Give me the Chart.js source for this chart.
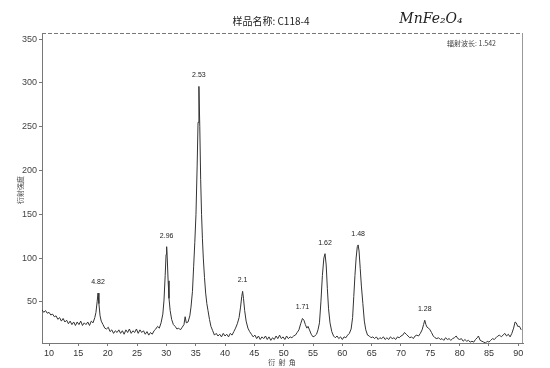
<!DOCTYPE html>
<html>
<head>
<meta charset="utf-8">
<script src="https://cdn.jsdelivr.net/npm/chart.js@4.4.1/dist/chart.umd.min.js"></script>
<style>
html,body{margin:0;padding:0;background:#fff;}
#wrap{width:550px;height:368px;position:relative;}
</style>
</head>
<body>
<div id="wrap"><canvas id="c" width="550" height="368"></canvas></div>
<script>
// ---- data ----
const twoTheta = [
8.8,9.1,9.4,9.7,10.0,10.3,10.6,10.9,11.2,11.5,11.8,12.1,12.4,12.7,13.0,13.3,13.6,13.9,14.2,14.5,
14.8,15.1,15.4,15.7,16.0,16.3,16.6,16.9,17.2,17.5,17.8,18.0,18.2,18.35,18.5,18.7,18.9,19.2,19.5,19.8,
20.1,20.4,20.7,21.0,21.3,21.6,21.9,22.2,22.5,22.8,23.1,23.4,23.7,24.0,24.3,24.6,24.9,25.2,25.5,25.8,
26.1,26.4,26.7,27.0,27.3,27.6,27.9,28.2,28.5,28.8,29.1,29.4,29.6,29.8,29.95,30.05,30.15,30.3,30.45,30.65,
30.9,31.2,31.5,31.8,32.1,32.4,32.7,33.0,33.2,33.4,33.7,34.0,34.2,34.45,34.65,34.85,35.05,35.25,35.4,35.55,
35.7,35.85,36.0,36.15,36.3,36.5,36.7,36.9,37.1,37.35,37.6,37.9,38.2,38.5,38.8,39.1,39.4,39.7,40.0,40.3,
40.6,40.9,41.2,41.5,41.8,42.1,42.4,42.65,42.85,43.0,43.15,43.35,43.6,43.9,44.2,44.5,44.8,45.1,45.4,45.7,
46.0,46.3,46.6,46.9,47.2,47.5,47.8,48.1,48.4,48.7,49.0,49.3,49.6,49.9,50.2,50.5,50.8,51.1,51.4,51.7,
52.0,52.3,52.6,52.9,53.2,53.45,53.7,53.95,54.15,54.4,54.7,55.0,55.3,55.6,55.85,56.1,56.35,56.6,56.85,57.05,
57.25,57.45,57.65,57.9,58.2,58.5,58.8,59.1,59.4,59.7,60.0,60.3,60.6,60.9,61.2,61.5,61.75,61.95,62.15,62.35,
62.55,62.7,62.85,63.05,63.25,63.5,63.75,64.0,64.3,64.6,64.9,65.2,65.5,65.8,66.1,66.4,66.7,67.0,67.3,67.6,
67.9,68.2,68.5,68.8,69.1,69.4,69.7,70.0,70.3,70.6,70.9,71.2,71.5,71.8,72.1,72.4,72.7,73.0,73.3,73.6,
73.85,74.05,74.25,74.45,74.7,74.95,75.2,75.5,75.8,76.1,76.4,76.7,77.0,77.3,77.6,77.9,78.2,78.5,78.8,79.1,
79.4,79.7,80.0,80.3,80.6,80.9,81.2,81.5,81.8,82.1,82.4,82.7,83.0,83.2,83.5,83.8,84.1,84.4,84.7,85.0,
85.3,85.6,85.9,86.2,86.5,86.8,87.1,87.4,87.7,88.0,88.3,88.6,88.9,89.2,89.45,89.65,89.9,90.2,90.5
];
const intensity = [
41,38,40,37,38,35,36,33,34,30,32,28,31,27,29,25,28,24,27,23,
27,24,28,23,26,24,27,23,28,26,32,38,50,60,48,34,28,24,20,19,
21,16,18,14,17,15,18,14,17,13,18,15,19,14,17,15,19,14,18,15,
17,13,16,12,15,13,17,19,22,20,26,36,52,80,104,113,100,74,54,40,
30,24,22,19,20,18,21,24,33,26,27,34,44,62,90,118,150,205,255,296,
250,190,150,122,100,78,60,48,40,30,22,17,12,14,11,13,10,14,11,13,
10,14,12,16,20,25,32,44,56,62,54,40,28,20,16,13,10,12,8,11,
7,10,8,11,7,10,6,9,7,11,8,12,8,10,7,11,8,10,9,11,
12,15,18,25,31,29,24,20,22,18,13,10,11,13,18,26,50,80,100,105,
92,65,42,26,16,11,9,11,8,10,7,10,9,12,14,19,32,56,80,100,
113,115,108,88,68,48,28,18,12,11,9,10,8,10,7,9,8,10,7,9,
7,10,8,9,7,10,9,11,12,15,13,11,9,10,8,11,12,11,14,18,
24,29,24,21,20,18,15,11,9,8,9,7,8,6,9,7,8,6,8,9,
11,8,7,8,5,7,5,6,4,5,4,7,9,11,6,5,4,3,5,4,
6,8,7,9,11,12,10,12,14,11,13,10,14,20,27,26,22,22,18
];
// peak annotations (d-spacing labels) at their peak positions
const peakLabels = ["4.82","2.96","2.53","2.1","1.71","1.62","1.48","1.28"];
const peakTheta  = [18.35,30.05,35.55,43.0,53.2,57.05,62.7,74.05];
const peakValue  = [60,113,296,62,31,105,115,29];
// tick labels
const xTicks = [10,15,20,25,30,35,40,45,50,55,60,65,70,75,80,85,90];
const yTicks = [50,100,150,200,250,300,350];
const sampleTitle = "样品名称: C118-4";
const compound = "MnFe₂O₄";
const wavelengthText = "辐射波长: 1.542";
const yTitle = "衍射强度";
const xTitle = "衍  射  角";

const points = twoTheta.map((t,i)=>({x:t,y:intensity[i]}));

const decor = {
  id:'decor',
  afterDraw(chart){
    const ctx = chart.ctx, a = chart.chartArea;
    const xs = chart.scales.x, ys = chart.scales.y;
    ctx.save();
    // top dashed border
    ctx.strokeStyle = '#777'; ctx.lineWidth = 1;
    ctx.setLineDash([4,2]);
    ctx.beginPath(); ctx.moveTo(a.left, a.top+0.5); ctx.lineTo(a.right, a.top+0.5); ctx.stroke();
    ctx.setLineDash([]);
    // right border
    ctx.strokeStyle = '#999';
    ctx.beginPath(); ctx.moveTo(a.right-0.5, a.top); ctx.lineTo(a.right-0.5, a.bottom); ctx.stroke();
    // peak labels
    ctx.fillStyle = '#222';
    ctx.font = '7px "Liberation Sans", Arial, sans-serif';
    ctx.textAlign = 'center'; ctx.textBaseline = 'middle';
    peakLabels.forEach((lab,i)=>{
      const px = xs.getPixelForValue(peakTheta[i]);
      const py = ys.getPixelForValue(peakValue[i]);
      ctx.fillText(lab, px, py-11);
    });
    // titles
    ctx.fillStyle = '#222';
    ctx.font = '10px "Noto Sans CJK SC", "Liberation Sans", sans-serif';
    ctx.textAlign = 'center';
    ctx.fillText(sampleTitle, 271, 21);
    ctx.font = 'italic 14px "DejaVu Serif", serif';
    ctx.fillText(compound, 431, 19);
    ctx.font = '7px "Noto Sans CJK SC", "Liberation Sans", sans-serif';
    ctx.textAlign = 'right';
    ctx.fillStyle = '#444';
    ctx.fillText(wavelengthText, 496, 43);
    // axis titles
    ctx.textAlign = 'center';
    ctx.fillText(xTitle, 282, 362);
    ctx.translate(20, 190);
    ctx.rotate(-Math.PI/2);
    ctx.fillText(yTitle, 0, 0);
    ctx.restore();
  }
};

new Chart(document.getElementById('c'), {
  type:'line',
  data:{datasets:[{data:points, borderColor:'#333', borderWidth:1, pointRadius:0, tension:0, fill:false}]},
  options:{
    responsive:false, animation:false, devicePixelRatio:1,
    layout:{padding:{left:0,right:27,top:33,bottom:0}},
    plugins:{legend:{display:false}, tooltip:{enabled:false}},
    scales:{
      x:{type:'linear', min:8.8, max:90.8,
        afterBuildTicks(s){ s.ticks = xTicks.map(v=>({value:v})); },
        afterFit(s){ s.height = 25; },
        grid:{drawOnChartArea:false, drawTicks:true, tickLength:3, color:'#777'},
        border:{display:true, color:'#777', width:1},
        ticks:{color:'#333', padding:2, autoSkip:false, maxRotation:0, font:{size:9, family:'"Liberation Sans", Arial, sans-serif'}}
      },
      y:{type:'linear', min:3, max:357,
        afterBuildTicks(s){ s.ticks = yTicks.map(v=>({value:v})); },
        afterFit(s){ s.width = 42; },
        grid:{drawOnChartArea:false, drawTicks:true, tickLength:3, color:'#777'},
        border:{display:true, color:'#777', width:1},
        ticks:{color:'#444', padding:2, font:{size:9, family:'"Liberation Sans", Arial, sans-serif'}}
      }
    }
  },
  plugins:[decor]
});
</script>
</body>
</html>
